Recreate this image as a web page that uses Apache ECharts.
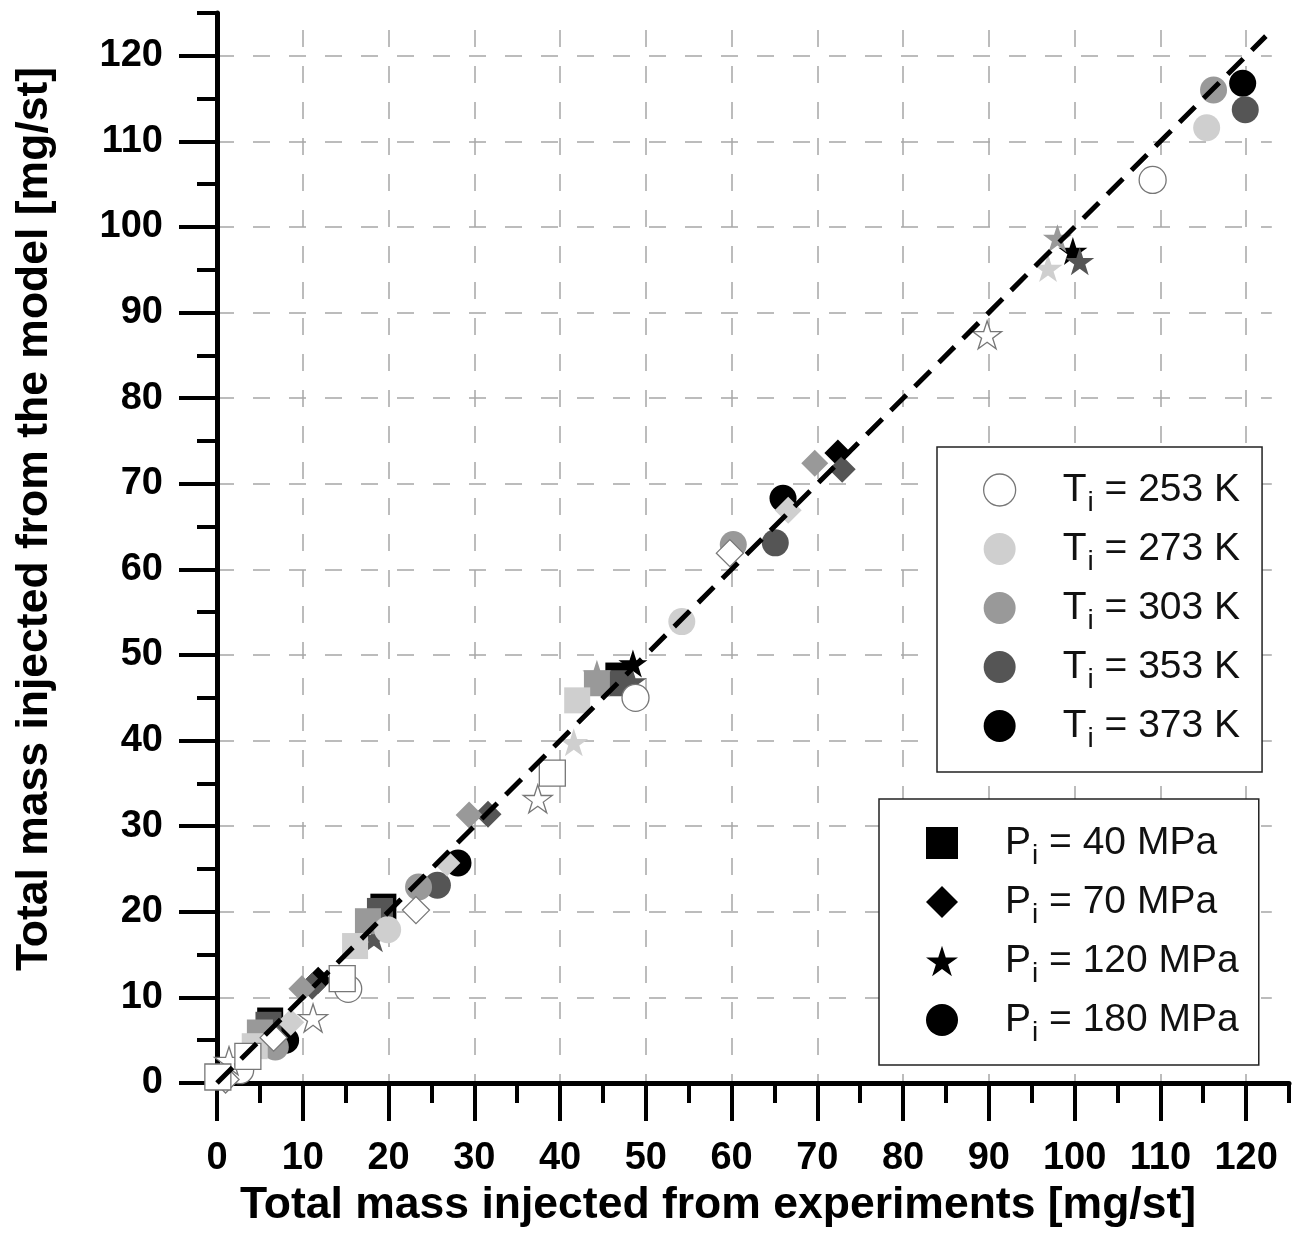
<!DOCTYPE html>
<html><head><meta charset="utf-8">
<script src="https://cdn.jsdelivr.net/npm/echarts@6/dist/echarts.min.js"></script>
<style>html,body{margin:0;padding:0;background:#fff}#c{width:1301px;height:1233px}</style>
</head><body><div id="c"></div>
<script>
// ---- tick labels ----
const xTickLabels = [0,10,20,30,40,50,60,70,80,90,100,110,120];
const yTickLabels = [0,10,20,30,40,50,60,70,80,90,100,110,120];
// ---- legend labels ----
const tempNames = ['T_i = 253 K','T_i = 273 K','T_i = 303 K','T_i = 353 K','T_i = 373 K'];
const pressNames = ['P_i = 40 MPa','P_i = 70 MPa','P_i = 120 MPa','P_i = 180 MPa'];
// ---- parity line (model = experiment) ----
const parityLine = [[0,0],[122.3,122.3]];
// ---- 40 MPa (squares) ----
const sq253 = [[0.1,0.7],[3.6,3.1],[14.6,12.2],[39.1,36.2]];
const sq273 = [[4.4,4.3],[16.1,16.0],[42.0,44.7]];
const sq303 = [[5.0,5.9],[17.6,18.9],[44.3,46.7]];
const sq353 = [[6.0,6.8],[19.0,20.1],[47.0,46.7]];
const sq373 = [[6.2,7.3],[19.4,20.6],[46.8,47.6]];
// ---- 70 MPa (diamonds) ----
const di253 = [[1.0,0.4],[6.6,5.3],[23.2,20.2],[59.8,61.9]];
const di273 = [[8.6,7.1],[26.8,25.7],[66.6,66.9]];
const di303 = [[9.9,11.0],[29.4,31.3],[69.7,72.4]];
const di353 = [[11.1,11.3],[31.6,31.4],[72.9,71.7]];
const di373 = [[11.8,12.0],[72.4,73.6]];
// ---- 120 MPa (stars) ----
const st253 = [[1.4,2.6],[11.2,7.6],[37.4,33.2],[89.8,87.4]];
const st273 = [[41.6,39.8],[96.9,95.2]];
const st303 = [[44.3,47.8],[98.0,98.7]];
const st353 = [[18.3,16.9],[48.4,46.9],[100.6,96.0]];
const st373 = [[48.5,49.0],[99.8,97.2]];
// ---- 180 MPa (circles) ----
const ci253 = [[2.7,1.5],[15.3,11.0],[48.8,45.0],[109.1,105.5]];
const ci273 = [[19.9,17.9],[54.2,53.9],[115.4,111.6]];
const ci303 = [[6.8,4.2],[23.5,22.9],[60.2,62.9],[116.2,116.0]];
const ci353 = [[25.7,23.1],[65.1,63.1],[119.9,113.7]];
const ci373 = [[8.0,5.0],[28.1,25.7],[66.0,68.3],[119.6,116.8]];

const STAR = 'path://M50,0 L61.23,34.55 L97.55,34.55 L68.17,55.9 L79.39,90.45 L50,69.1 L20.61,90.45 L31.83,55.9 L2.45,34.55 L38.77,34.55 Z';
const tempStyle = {
  '253': {color:'#ffffff', borderColor:'#777777', borderWidth:1.3, opacity:1},
  '273': {color:'#cfcfcf', opacity:1},
  '303': {color:'#999999', opacity:1},
  '353': {color:'#555555', opacity:1},
  '373': {color:'#000000', opacity:1}
};
const shapes = {
  ci: {symbol:'circle', size:27},
  st: {symbol:STAR, size:[29,28]},
  di: {symbol:'diamond', size:27},
  sq: {symbol:'rect', size:26}
};
const dataSets = {
  ci: {'253':ci253,'273':ci273,'303':ci303,'353':ci353,'373':ci373},
  st: {'253':st253,'273':st273,'303':st303,'353':st353,'373':st373},
  di: {'253':di253,'273':di273,'303':di303,'353':di353,'373':di373},
  sq: {'253':sq253,'273':sq273,'303':sq303,'353':sq353,'373':sq373}
};
const series = [];
['373','353','303','273','253'].forEach(T => {
  ['ci','st','di','sq'].forEach(k => {
    series.push({
      name: k + T, type:'scatter', xAxisIndex:0, yAxisIndex:0,
      symbol: shapes[k].symbol, symbolSize: shapes[k].size,
      itemStyle: Object.assign({}, tempStyle[T]),
      data: dataSets[k][T], z: 3, silent:true
    });
  });
});
series.push({
  name:'parity', type:'line', xAxisIndex:0, yAxisIndex:0, data: parityLine,
  symbol:'none', silent:true, z:5,
  lineStyle:{color:'#000', width:5, type:[22,12]}
});
const tKeys = ['253','273','303','353','373'];
tempNames.forEach((n,i) => series.push({name:n, type:'scatter', data:[], symbol:'circle', itemStyle: tempStyle[tKeys[i]]}));
const pIcons = ['rect','diamond',STAR,'circle'];
pressNames.forEach((n,i) => series.push({name:n, type:'scatter', data:[], symbol:pIcons[i], itemStyle:{color:'#000', opacity:1}}));

const FONT = 'Liberation Sans';
const rich = {
  m0: {fontFamily:FONT, fontSize:39, lineHeight:44, color:'#111', padding:[0,0,0,42]},
  m:  {fontFamily:FONT, fontSize:39, lineHeight:44, color:'#111'},
  s:  {fontFamily:FONT, fontSize:28, lineHeight:28, color:'#111', padding:[26,0,0,1]}
};
function legFmt(name){ const p = name.split('_i'); return '{m0|' + p[0] + '}{s|i}{m|' + p[1] + '}'; }

const boldLabel = {fontFamily:FONT, fontWeight:'bold', fontSize:38, color:'#000'};
const option = {
  animation:false,
  backgroundColor:'#fff',
  grid:[
    {left:217, top:13, width:1072, height:1070},
    {left:217, top:30.1, width:1054.8, height:1052.9}
  ],
  xAxis:[
    {gridIndex:0, type:'value', min:0, max:125, interval:5, position:'bottom',
     axisLine:{show:true, onZero:false, lineStyle:{color:'#000', width:5}},
     axisTick:{show:true, length:20, lineStyle:{color:'#000', width:4}},
     axisLabel:{show:true, margin:57, formatter:v => xTickLabels.includes(v) ? String(v) : '', ...boldLabel},
     splitLine:{show:false},
     name:'Total mass injected from experiments [mg/st]', nameLocation:'middle', nameGap:100,
     nameTextStyle:{fontFamily:FONT, fontWeight:'bold', fontSize:44.5, color:'#000', padding:[0,70,0,0]}},
    {gridIndex:0, type:'value', min:0, max:125, interval:10, position:'bottom',
     axisLine:{show:false}, axisLabel:{show:false}, splitLine:{show:false},
     axisTick:{show:true, customValues:xTickLabels, length:38, lineStyle:{color:'#000', width:4}}},
    {gridIndex:1, type:'value', min:0, max:123, interval:10, position:'bottom',
     axisLine:{show:false}, axisLabel:{show:false}, axisTick:{show:false},
     splitLine:{show:true, showMinLine:false, showMaxLine:false, lineStyle:{color:'#a6a6a6', width:1.5, type:[17,19]}}}
  ],
  yAxis:[
    {gridIndex:0, type:'value', min:0, max:125, interval:5, position:'left',
     axisLine:{show:true, onZero:false, lineStyle:{color:'#000', width:5}},
     axisTick:{show:true, length:20, lineStyle:{color:'#000', width:4}},
     axisLabel:{show:true, margin:54, formatter:v => yTickLabels.includes(v) ? String(v) : '', ...boldLabel},
     splitLine:{show:false},
     name:'Total mass injected from the model [mg/st]', nameLocation:'middle', nameGap:160,
     nameTextStyle:{fontFamily:FONT, fontWeight:'bold', fontSize:44.5, color:'#000', padding:[0,0,0,58]}},
    {gridIndex:0, type:'value', min:0, max:125, interval:10, position:'left',
     axisLine:{show:false}, axisLabel:{show:false}, splitLine:{show:false},
     axisTick:{show:true, customValues:yTickLabels, length:38, lineStyle:{color:'#000', width:4}}},
    {gridIndex:1, type:'value', min:0, max:123, interval:10, position:'left',
     axisLine:{show:false}, axisLabel:{show:false}, axisTick:{show:false},
     splitLine:{show:true, showMinLine:false, showMaxLine:false, lineStyle:{color:'#a6a6a6', width:1.5, type:[17,19]}}}
  ],
  legend:[
    {orient:'vertical', left:937, top:447, padding:[16,22,19,46], itemGap:5, itemWidth:32, itemHeight:32,
     backgroundColor:'#fff', borderColor:'#222', borderWidth:1.5, selectedMode:false,
     data: tempNames.map((n,i) => ({name:n, icon:'circle', itemStyle: tempStyle[tKeys[i]]})),
     formatter: legFmt, textStyle:{fontFamily:FONT, fontSize:39, color:'#111', rich:rich}},
    {orient:'vertical', left:879, top:799, padding:[17,20,18,47], itemGap:5, itemWidth:32, itemHeight:32,
     backgroundColor:'#fff', borderColor:'#222', borderWidth:1.5, selectedMode:false,
     data: pressNames.map((n,i) => ({name:n, icon:pIcons[i], itemStyle:{color:'#000', opacity:1}})),
     formatter: legFmt, textStyle:{fontFamily:FONT, fontSize:39, color:'#111', rich:rich}}
  ],
  series: series
};
const chart = echarts.init(document.getElementById('c'), null, {renderer:'canvas'});
chart.setOption(option);
</script>
</body></html>
